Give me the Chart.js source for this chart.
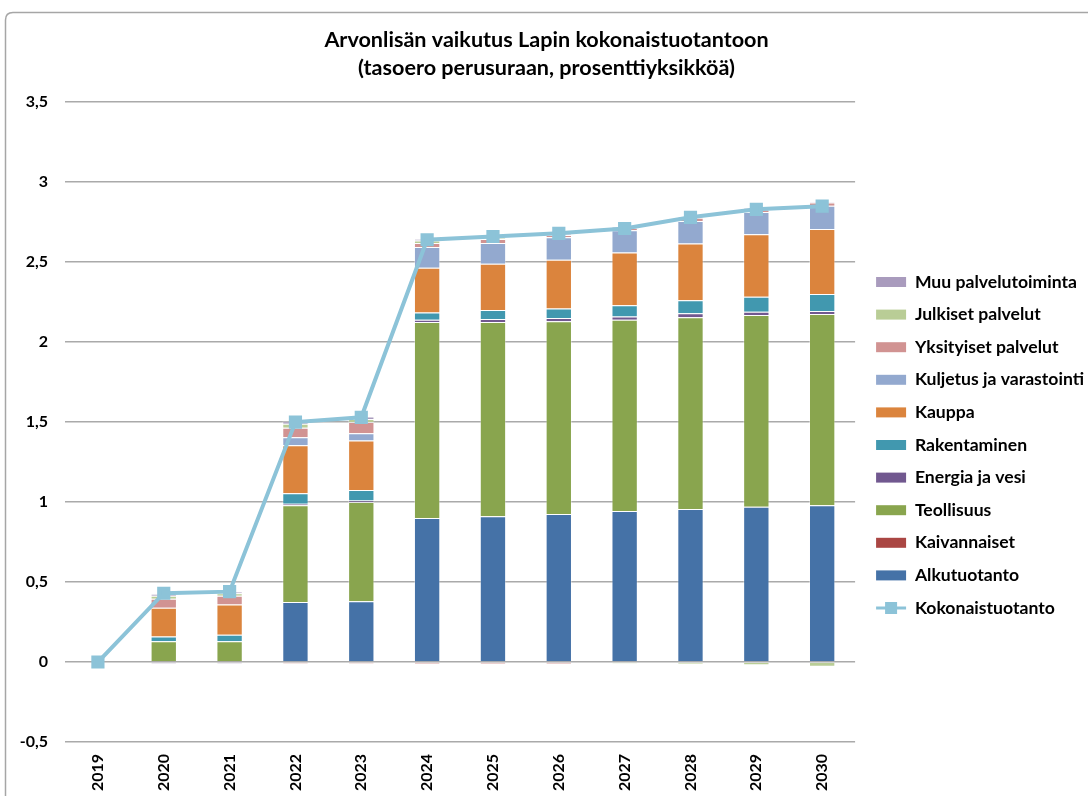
<!DOCTYPE html>
<html>
<head>
<meta charset="utf-8">
<script src="https://cdn.jsdelivr.net/npm/chart.js@4"></script>
<style>
  html, body { margin: 0; padding: 0; background: #fff; }
  #wrap { width: 1088px; height: 796px; position: relative; }
</style>
</head>
<body>
<div id="wrap"><canvas id="c" width="1088" height="796"></canvas></div>
<script>
const years = ['2019','2020','2021','2022','2023','2024','2025','2026','2027','2028','2029','2030'];
const alkutuotanto = [0, 0, 0, 0.375, 0.38, 0.90, 0.912, 0.925, 0.944, 0.956, 0.97, 0.98];
const kaivannaiset = [0, 0, 0, -0.01, -0.01, -0.012, -0.012, -0.012, 0, 0, 0, 0];
const teollisuus = [0, 0.13, 0.13, 0.605, 0.62, 1.225, 1.213, 1.205, 1.196, 1.2, 1.2, 1.195];
const energia = [0, -0.01, -0.01, 0.01, 0.01, 0.015, 0.02, 0.02, 0.02, 0.025, 0.02, 0.02];
const rakentaminen = [0, 0.03, 0.04, 0.065, 0.065, 0.045, 0.055, 0.06, 0.07, 0.08, 0.094, 0.106];
const kauppa = [0, 0.18, 0.19, 0.30, 0.31, 0.28, 0.29, 0.305, 0.33, 0.356, 0.39, 0.406];
const kuljetus = [0, 0, 0, 0.05, 0.045, 0.13, 0.13, 0.14, 0.14, 0.14, 0.14, 0.145];
const yksityiset = [0, 0.055, 0.055, 0.06, 0.07, 0.025, 0.025, 0.015, 0.015, 0.02, 0.015, 0.02];
const julkiset = [0, 0.02, 0.015, 0.025, 0.02, 0.015, 0.005, 0, -0.01, -0.015, -0.02, -0.03];
const muu = [0, 0.01, 0.01, 0.015, 0.015, 0.01, 0.005, 0.005, 0.005, 0.005, 0.01, 0.005];
const kokonaistuotanto = [0, 0.43, 0.44, 1.50, 1.53, 2.64, 2.66, 2.68, 2.71, 2.78, 2.83, 2.85];
const yTicks = ['-0,5','0','0,5','1','1,5','2','2,5','3','3,5'];

const FONT = "Lato, 'Liberation Sans', sans-serif";
const LINE_COLOR = '#8cc3d8';

function bar(label, data, color) {
  return { type: 'bar', label, data, backgroundColor: color, borderColor: 'rgba(255,255,255,0.35)', borderWidth: 1,
    barPercentage: 0.4, categoryPercentage: 1, stack: 's', order: 2 };
}

const frame = {
  id: 'frame',
  afterLayout(chart) {
    const lg = chart.legend;
    if (!lg) return;
    lg.left += 6; lg.right += 6;
    lg.top += 35; lg.bottom += 35;
  },
  beforeDraw(chart) {
    const ctx = chart.ctx;
    ctx.save();
    ctx.strokeStyle = '#a6a6a6';
    ctx.lineWidth = 1.5;
    ctx.beginPath();
    ctx.moveTo(5.5, 800);
    ctx.lineTo(5.5, 20);
    ctx.quadraticCurveTo(5.5, 12.5, 13, 12.5);
    ctx.lineTo(1090, 12.5);
    ctx.stroke();
    ctx.restore();
  },
  afterDraw(chart) {
    const lg = chart.legend;
    if (!lg || !lg.legendItems) return;
    const idx = lg.legendItems.findIndex(it => it.datasetIndex === 10);
    if (idx < 0) return;
    const hb = lg.legendHitBoxes[idx];
    const bw = lg.options.labels.boxWidth;
    const cy = hb.top + hb.height / 2;
    const ctx = chart.ctx;
    ctx.save();
    ctx.strokeStyle = LINE_COLOR;
    ctx.lineWidth = 3;
    ctx.beginPath();
    ctx.moveTo(hb.left, cy);
    ctx.lineTo(hb.left + bw, cy);
    ctx.stroke();
    ctx.fillStyle = LINE_COLOR;
    ctx.fillRect(hb.left + bw / 2 - 6, cy - 6, 12, 12);
    ctx.restore();
  }
};

new Chart(document.getElementById('c'), {
  data: {
    labels: years,
    datasets: [
      bar('Alkutuotanto', alkutuotanto, '#4572a7'),
      bar('Kaivannaiset', kaivannaiset, '#aa4643'),
      bar('Teollisuus', teollisuus, '#89a54e'),
      bar('Energia ja vesi', energia, '#71588f'),
      bar('Rakentaminen', rakentaminen, '#4198af'),
      bar('Kauppa', kauppa, '#db843d'),
      bar('Kuljetus ja varastointi', kuljetus, '#93a9cf'),
      bar('Yksityiset palvelut', yksityiset, '#d19392'),
      bar('Julkiset palvelut', julkiset, '#b9cd96'),
      bar('Muu palvelutoiminta', muu, '#a99bbd'),
      { type: 'line', label: 'Kokonaistuotanto', data: kokonaistuotanto, borderColor: LINE_COLOR, backgroundColor: LINE_COLOR,
        borderWidth: 4, pointStyle: 'rect', pointRadius: 6.5, pointHoverRadius: 6.5, pointBackgroundColor: LINE_COLOR,
        pointBorderColor: LINE_COLOR, tension: 0, order: 0 }
    ]
  },
  options: {
    responsive: false,
    animation: false,
    layout: { padding: { top: 26, left: 5, right: 0, bottom: 2 } },
    plugins: {
      title: {
        display: true,
        text: ['Arvonlisän vaikutus Lapin kokonaistuotantoon', '(tasoero perusuraan, prosenttiyksikköä)'],
        color: '#000',
        font: { family: FONT, size: 21.6, weight: 'bold', lineHeight: 1.3 },
        padding: { top: 0, bottom: 20 }
      },
      legend: {
        position: 'right',
        labels: {
          color: '#000',
          font: { family: FONT, size: 17.6, weight: 'bold' },
          boxWidth: 30, boxHeight: 10, padding: 15,
          generateLabels: (chart) => {
            const items = Chart.defaults.plugins.legend.labels.generateLabels(chart);
            items.forEach(it => {
              if (it.datasetIndex === 10) { it.fillStyle = 'rgba(0,0,0,0)'; it.strokeStyle = 'rgba(0,0,0,0)'; it.lineWidth = 0; }
              else { it.lineWidth = 0; }
            });
            return items;
          },
          sort: (a, b) => {
            const la = a.datasetIndex === 10 ? -1 : a.datasetIndex;
            const lb = b.datasetIndex === 10 ? -1 : b.datasetIndex;
            return lb - la;
          }
        }
      },
      tooltip: { enabled: false }
    },
    scales: {
      x: {
        stacked: true,
        grid: { display: false, drawTicks: false },
        border: { display: false },
        afterFit: (s) => { s.height = 52; },
        ticks: { color: '#000', font: { family: FONT, size: 16, weight: 'bold' }, minRotation: 90, maxRotation: 90, padding: 12 }
      },
      y: {
        stacked: true,
        min: -0.5, max: 3.5,
        afterBuildTicks: (scale) => { scale.ticks = yTicks.map(t => ({ value: parseFloat(t.replace(',', '.')) })); },
        afterFit: (s) => { s.width = 60; },
        grid: { color: '#aaaaaa', lineWidth: 1.5, drawTicks: false },
        border: { display: false },
        ticks: {
          color: '#000', font: { family: FONT, size: 16, weight: 'bold' }, padding: 17,
          callback: (v) => String(v).replace('.', ',')
        }
      }
    }
  },
  plugins: [frame]
});
</script>
</body>
</html>
